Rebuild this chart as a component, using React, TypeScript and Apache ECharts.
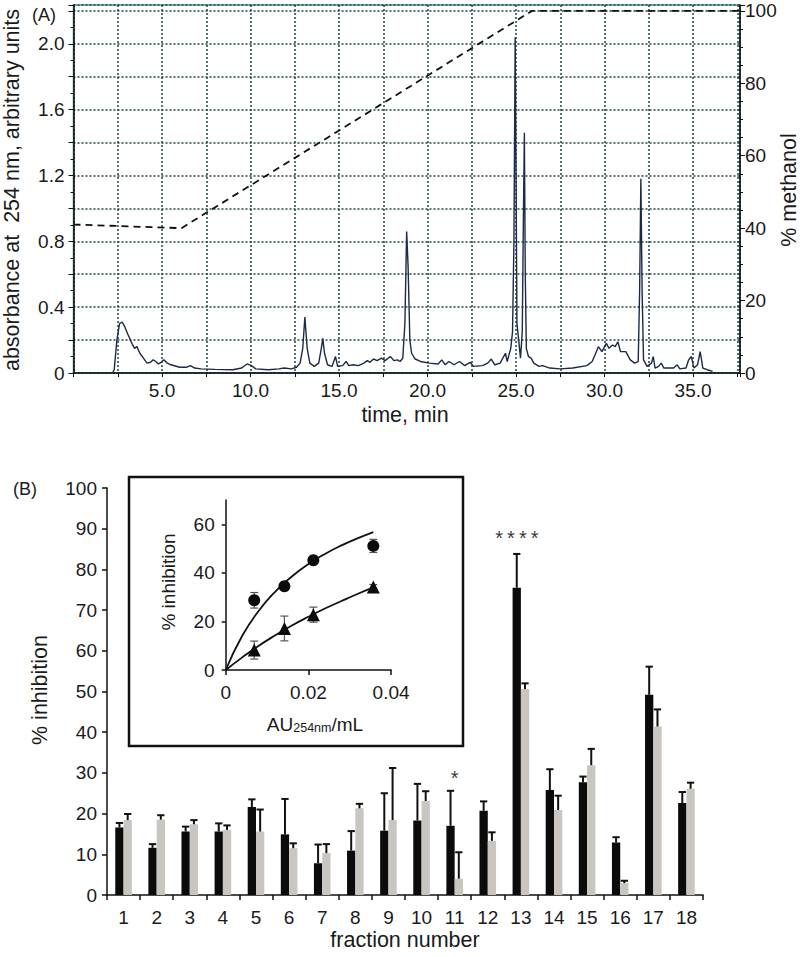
import React, { useEffect, useRef } from 'react';
import * as echarts from 'echarts';

// ---------- Panel A: chromatogram ----------
const chromTime = [
  2.2, 2.3, 2.45, 2.6, 2.75, 2.9, 3.05, 3.3, 3.45, 3.58, 3.75, 3.95, 4.15, 4.35, 4.5, 4.65, 4.8, 4.95, 5.1, 5.3, 5.5,
  6.0, 6.4, 6.6, 6.85, 7.2, 8.0, 9.0, 9.5, 9.8, 10.05, 10.3, 11.0, 11.6, 11.9, 12.3, 12.6, 12.8, 12.95, 13.07, 13.2,
  13.35, 13.6, 13.85, 14.0, 14.08, 14.18, 14.35, 14.6, 14.8, 14.92, 15.2, 15.4, 15.55, 15.8, 16.1, 16.4, 16.6, 16.75,
  16.95, 17.15, 17.4, 17.6, 17.9, 18.1, 18.3, 18.45, 18.6, 18.72, 18.82, 18.9, 19.0, 19.1, 19.3, 19.6, 20.1, 20.6,
  20.8, 21.0, 21.2, 21.5, 21.8, 22.1, 22.4, 22.6, 23.1, 23.4, 23.6, 23.8, 24.1, 24.4, 24.5, 24.7, 24.8, 24.88, 24.95,
  25.0, 25.05, 25.15, 25.25, 25.35, 25.42, 25.47, 25.52, 25.58, 25.7, 25.85, 26.0, 26.3, 26.5, 26.9, 27.5, 28.2, 29.0,
  29.3, 29.5, 29.65, 29.85, 30.1, 30.25, 30.45, 30.6, 30.75, 30.9, 31.2, 31.45, 31.7, 31.9, 31.98, 32.05, 32.12, 32.2,
  32.4, 32.65, 32.75, 32.85, 33.05, 33.2, 33.35, 33.9, 34.1, 34.25, 34.6, 34.75, 34.9, 35.05, 35.25, 35.4, 35.55, 35.8,
  36.1,
];
const chromAbs = [
  0.0, 0.02, 0.2, 0.3, 0.31, 0.28, 0.24, 0.18, 0.15, 0.16, 0.12, 0.09, 0.06, 0.065, 0.08, 0.07, 0.055, 0.065, 0.08, 0.06, 0.05,
  0.035, 0.035, 0.045, 0.03, 0.025, 0.022, 0.02, 0.03, 0.055, 0.045, 0.025, 0.02, 0.025, 0.03, 0.025, 0.035, 0.06, 0.15, 0.34, 0.15,
  0.06, 0.04, 0.06, 0.15, 0.21, 0.12, 0.05, 0.04, 0.1, 0.04, 0.045, 0.07, 0.045, 0.05, 0.045, 0.06, 0.075, 0.065,
  0.085, 0.075, 0.09, 0.075, 0.1, 0.075, 0.08, 0.07, 0.09, 0.3, 0.86, 0.65, 0.2, 0.12, 0.085, 0.07, 0.06, 0.055,
  0.08, 0.05, 0.07, 0.05, 0.07, 0.045, 0.065, 0.04, 0.045, 0.06, 0.085, 0.05, 0.06, 0.12, 0.07, 0.15, 0.25, 0.8, 2.04,
  1.2, 0.3, 0.2, 0.09, 0.25, 1.0, 1.46, 0.6, 0.15, 0.1, 0.09, 0.06, 0.04, 0.045, 0.03, 0.025, 0.03, 0.045,
  0.07, 0.12, 0.16, 0.13, 0.18, 0.15, 0.17, 0.16, 0.19, 0.13, 0.13, 0.08, 0.06, 0.07, 0.5, 1.18, 0.5, 0.08,
  0.04, 0.06, 0.1, 0.03, 0.04, 0.06, 0.03, 0.03, 0.05, 0.025, 0.03, 0.08, 0.1, 0.03, 0.05, 0.13, 0.03, 0.02,
  0.01,
];
const methanolTime = [0, 6.1, 25.9, 37.65];
const methanolPct = [41, 40, 100, 100];

// ---------- Panel B: fractions ----------
const fractions = ['1', '2', '3', '4', '5', '6', '7', '8', '9', '10', '11', '12', '13', '14', '15', '16', '17', '18'];
const blackMean = [16.6, 11.6, 15.6, 15.6, 21.6, 14.9, 7.8, 10.9, 15.8, 18.3, 17.0, 20.7, 75.5, 25.8, 27.7, 12.9, 49.2, 22.6];
const blackErr = [1.1, 0.9, 1.2, 2.0, 1.9, 8.7, 4.6, 4.8, 9.2, 9.0, 8.6, 2.3, 8.3, 5.1, 1.4, 1.3, 6.9, 2.7];
const grayMean = [18.4, 18.5, 17.4, 16.0, 15.6, 11.5, 10.3, 21.3, 18.4, 23.1, 4.0, 13.3, 50.6, 20.9, 31.9, 2.9, 41.4, 26.1];
const grayErr = [1.5, 1.1, 1.0, 1.1, 5.4, 1.2, 2.2, 1.1, 12.8, 2.4, 6.5, 2.1, 1.4, 3.5, 4.0, 0.6, 4.2, 1.5];
const sigIndex = [10, 12];
const sigY = [28.7, 87.6];
const sigText = ['*', '*\u2009*\u2009*\u2009*'];

// ---------- Inset ----------
const inhibConc = [0.0069, 0.0142, 0.0212, 0.0357];
const circleMean = [28.7, 34.5, 45.2, 51.1];
const circleErr = [3.2, 1.0, 1.0, 2.7];
const triMean = [8.2, 17.1, 22.8, 34.2];
const triErr = [3.7, 5.1, 3.1, 1.0];
const curveConc = [0, 0.004, 0.008, 0.012, 0.016, 0.02, 0.024, 0.028, 0.032, 0.0357];
const circleFit = [0, 14.1, 24.4, 32.3, 38.5, 43.6, 47.8, 51.3, 54.3, 56.8];
const triFit = [0, 5.2, 10.0, 14.3, 18.3, 21.9, 25.3, 28.4, 31.4, 34.0];

const FONT = '"Liberation Sans", Arial, sans-serif';
const TXT = '#1a1a1a';

function barErrSeries(mean: number[], err: number[], dir: number) {
  return {
    type: 'custom',
    xAxisIndex: 1,
    yAxisIndex: 2,
    z: 5,
    silent: true,
    encode: { x: 0, y: 1 },
    data: mean.map((m, i) => [i, m, err[i]]),
    renderItem: (params: any, api: any) => {
      const i = api.value(0);
      const m = api.value(1);
      const e = api.value(2);
      const band = api.size([1, 0])[0];
      const x = api.coord([i, 0])[0] + dir * band * 0.125;
      const yBar = api.coord([i, m])[1];
      const yTop = api.coord([i, m + e])[1];
      const cap = band * 0.11;
      const st = { stroke: '#111', lineWidth: 2 };
      return {
        type: 'group',
        children: [
          { type: 'line', shape: { x1: x, y1: yBar, x2: x, y2: yTop }, style: st },
          { type: 'line', shape: { x1: x - cap, y1: yTop, x2: x + cap, y2: yTop }, style: st },
        ],
      };
    },
  };
}

function insetErrSeries(mean: number[], err: number[]) {
  return {
    type: 'custom',
    xAxisIndex: 2,
    yAxisIndex: 3,
    z: 3,
    silent: true,
    encode: { x: 0, y: 1 },
    data: mean.map((m, i) => [inhibConc[i], m, err[i]]),
    renderItem: (params: any, api: any) => {
      const xv = api.value(0);
      const m = api.value(1);
      const e = api.value(2);
      const p1 = api.coord([xv, m - e]);
      const p2 = api.coord([xv, m + e]);
      const cap = 4;
      const st = { stroke: '#555', lineWidth: 1.2 };
      return {
        type: 'group',
        children: [
          { type: 'line', shape: { x1: p1[0], y1: p1[1], x2: p2[0], y2: p2[1] }, style: st },
          { type: 'line', shape: { x1: p1[0] - cap, y1: p1[1], x2: p1[0] + cap, y2: p1[1] }, style: st },
          { type: 'line', shape: { x1: p2[0] - cap, y1: p2[1], x2: p2[0] + cap, y2: p2[1] }, style: st },
        ],
      };
    },
  };
}

export default function App() {
  const ref = useRef<HTMLDivElement>(null);
  useEffect(() => {
    if (!ref.current) return;
    const chart = echarts.init(ref.current, undefined, { renderer: 'svg' });
    const leftMax = 2.2357;
    const rightMax = (leftMax / 2.2) * 100;
    const gridLine = { show: true, lineStyle: { color: '#214545', width: 1.5, type: [2, 2] as any } };
    const axBlack = { show: true, lineStyle: { color: '#111', width: 1.5 } };
    const lbl = { color: TXT, fontFamily: FONT, fontSize: 19 };

    const option: any = {
      animation: false,
      backgroundColor: '#ffffff',
      textStyle: { fontFamily: FONT },
      grid: [
        { left: 73.5, top: 5, width: 666.5, height: 368, show: true, borderColor: '#3f9c9c', borderWidth: 1.5, backgroundColor: 'transparent' },
        { left: 107, top: 488, width: 596, height: 407 },
        { left: 225.7, top: 500, width: 165.4, height: 170 },
      ],
      xAxis: [
        {
          type: 'value', gridIndex: 0, min: 0, max: 37.65, interval: 2.5, offset: 3,
          axisLine: axBlack,
          axisTick: { show: true, length: 4, lineStyle: { color: '#111' } },
          splitLine: gridLine,
          axisLabel: {
            ...lbl, margin: 5,
            formatter: (v: number) => (v > 0 && v < 37 && Math.abs(v / 5 - Math.round(v / 5)) < 1e-6 ? v.toFixed(1) : ''),
          },
        },
        {
          type: 'category', gridIndex: 1, data: fractions,
          axisLine: axBlack,
          axisTick: { show: true, length: 5, alignWithLabel: false, lineStyle: { color: '#111', width: 1.5 } },
          axisLabel: { ...lbl, margin: 13, interval: 0 },
          splitLine: { show: false },
        },
        {
          type: 'value', gridIndex: 2, min: 0, max: 0.04, interval: 0.02,
          axisLine: axBlack,
          axisTick: { show: true, length: 5, lineStyle: { color: '#111', width: 1.5 } },
          splitLine: { show: false },
          axisLabel: { ...lbl, margin: 13, formatter: (v: number) => (v === 0 ? '0' : v.toFixed(2)) },
        },
      ],
      yAxis: [
        {
          type: 'value', gridIndex: 0, min: 0, max: leftMax, interval: 0.2,
          axisLine: axBlack,
          axisTick: { show: true, length: 5, lineStyle: { color: '#111' } },
          minorTick: { show: true, splitNumber: 2, length: 3, lineStyle: { color: '#111' } },
          splitLine: gridLine,
          axisLabel: {
            ...lbl, margin: 9,
            formatter: (v: number) => {
              if (v > 2.01) return '';
              if (Math.abs(v / 0.4 - Math.round(v / 0.4)) > 1e-6) return '';
              return v === 0 ? '0' : v.toFixed(1);
            },
          },
        },
        {
          type: 'value', gridIndex: 0, position: 'right', min: 0, max: rightMax, interval: 20,
          axisLine: axBlack,
          axisTick: { show: true, length: 5, lineStyle: { color: '#111' } },
          minorTick: { show: true, splitNumber: 4, length: 3, lineStyle: { color: '#111' } },
          splitLine: { show: false },
          axisLabel: { ...lbl, margin: 5, formatter: (v: number) => (v > 100.5 ? '' : String(Math.round(v))) },
        },
        {
          type: 'value', gridIndex: 1, min: 0, max: 100, interval: 10,
          axisLine: axBlack,
          axisTick: { show: true, length: 5, lineStyle: { color: '#111', width: 1.5 } },
          splitLine: { show: false },
          axisLabel: { ...lbl, margin: 10 },
        },
        {
          type: 'value', gridIndex: 2, min: 0, max: 70, interval: 20,
          axisLine: axBlack,
          axisTick: { show: true, length: 4, customValues: [0, 20, 40, 60], lineStyle: { color: '#111', width: 1.5 } },
          splitLine: { show: false },
          axisLabel: { ...lbl, margin: 11, customValues: [0, 20, 40, 60] },
        },
      ],
      series: [
        {
          type: 'line', xAxisIndex: 0, yAxisIndex: 1, showSymbol: false, silent: true, z: 3,
          data: methanolTime.map((t, i) => [t, methanolPct[i]]),
          lineStyle: { color: '#111', width: 1.8, type: [7, 5] },
        },
        {
          type: 'line', xAxisIndex: 0, yAxisIndex: 0, showSymbol: false, silent: true, z: 4,
          data: chromTime.map((t, i) => [t, chromAbs[i]]),
          lineStyle: { color: '#1b2a47', width: 1.4 },
        },
        {
          type: 'bar', xAxisIndex: 1, yAxisIndex: 2, data: blackMean, barWidth: 8.3, barGap: '0%',
          itemStyle: { color: '#0b0b0b' },
        },
        {
          type: 'bar', xAxisIndex: 1, yAxisIndex: 2, data: grayMean, barWidth: 8.3, barGap: '0%',
          itemStyle: { color: '#c9c5c1' },
        },
        barErrSeries(blackMean, blackErr, -1),
        barErrSeries(grayMean, grayErr, 1),
        {
          type: 'scatter', xAxisIndex: 1, yAxisIndex: 2, symbolSize: 0, silent: true, z: 7,
          data: sigIndex.map((c, i) => ({ value: [c, sigY[i]], label: { offset: [i === 0 ? 0 : -4, 0] } })),
          label: {
            show: true, position: 'inside', color: '#000', fontFamily: FONT, fontSize: 20,
            formatter: (p: any) => sigText[p.dataIndex],
          },
        },
        insetErrSeries(circleMean, circleErr),
        insetErrSeries(triMean, triErr),
        {
          type: 'line', xAxisIndex: 2, yAxisIndex: 3, showSymbol: false, smooth: true, silent: true, z: 2,
          data: curveConc.map((c, i) => [c, circleFit[i]]),
          lineStyle: { color: '#111', width: 1.8 },
        },
        {
          type: 'line', xAxisIndex: 2, yAxisIndex: 3, showSymbol: false, smooth: true, silent: true, z: 2,
          data: curveConc.map((c, i) => [c, triFit[i]]),
          lineStyle: { color: '#111', width: 1.8 },
        },
        {
          type: 'scatter', xAxisIndex: 2, yAxisIndex: 3, symbol: 'circle', symbolSize: 12, z: 6, silent: true,
          data: inhibConc.map((c, i) => [c, circleMean[i]]),
          itemStyle: { color: '#0b0b0b', opacity: 1 },
        },
        {
          type: 'scatter', xAxisIndex: 2, yAxisIndex: 3, symbol: 'triangle', symbolSize: 13, z: 6, silent: true,
          data: inhibConc.map((c, i) => [c, triMean[i]]),
          itemStyle: { color: '#0b0b0b', opacity: 1 },
        },
      ],
      graphic: [
        { type: 'text', left: 32, top: 6, style: { text: '(A)', font: `18px ${FONT}`, fill: TXT } },
        {
          type: 'text', x: 12, y: 190, rotation: Math.PI / 2,
          style: { text: 'absorbance at  254 nm, arbitrary units', font: `21.5px ${FONT}`, fill: TXT, align: 'center', verticalAlign: 'middle' },
        },
        {
          type: 'text', x: 789, y: 190, rotation: Math.PI / 2,
          style: { text: '% methanol', font: `21.5px ${FONT}`, fill: TXT, align: 'center', verticalAlign: 'middle' },
        },
        {
          type: 'text', x: 405, y: 415,
          style: { text: 'time, min', font: `21.5px ${FONT}`, fill: TXT, align: 'center', verticalAlign: 'middle' },
        },
        {
          type: 'text', x: 25, y: 489,
          style: { text: '(B)', font: `18px ${FONT}`, fill: TXT, align: 'center', verticalAlign: 'middle' },
        },
        {
          type: 'text', x: 40, y: 690, rotation: Math.PI / 2,
          style: { text: '% inhibition', font: `21.5px ${FONT}`, fill: TXT, align: 'center', verticalAlign: 'middle' },
        },
        {
          type: 'text', x: 405, y: 940,
          style: { text: 'fraction number', font: `21.5px ${FONT}`, fill: TXT, align: 'center', verticalAlign: 'middle' },
        },
        {
          type: 'rect', shape: { x: 129, y: 477, width: 334, height: 269 }, z: 1,
          style: { fill: 'none', stroke: '#111', lineWidth: 2.5 },
        },
        {
          type: 'text', x: 168, y: 582, rotation: Math.PI / 2, z: 10,
          style: { text: '% inhibition', font: `19px ${FONT}`, fill: TXT, align: 'center', verticalAlign: 'middle' },
        },
        {
          type: 'text', x: 315, y: 723, z: 10,
          style: {
            text: '{a|AU}{b|254nm}{a|/mL}', align: 'center', verticalAlign: 'middle',
            rich: {
              a: { font: `19px ${FONT}`, fill: TXT, lineHeight: 22, verticalAlign: 'bottom' },
              b: { font: `12.5px ${FONT}`, fill: TXT, lineHeight: 17, verticalAlign: 'bottom' },
            },
          },
        },
      ],
    };
    chart.setOption(option);
    return () => chart.dispose();
  }, []);
  return (
    <div
      ref={ref}
      style={{ position: 'fixed', left: 0, top: 0, width: 800, height: 957, background: '#fff' }}
    />
  );
}
